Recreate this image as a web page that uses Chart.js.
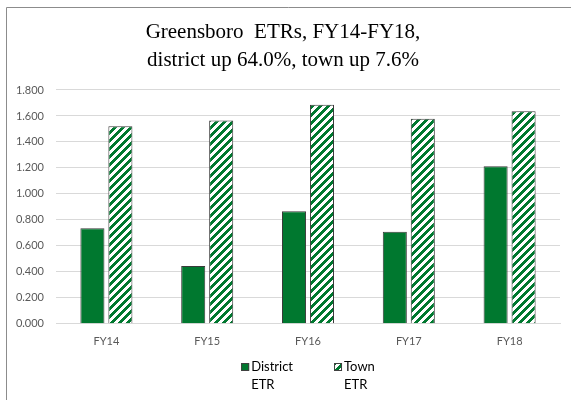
<!DOCTYPE html>
<html>
<head>
<meta charset="utf-8">
<script src="https://cdn.jsdelivr.net/npm/chart.js@4.4.1/dist/chart.umd.min.js"></script>
<style>
    html, body { margin: 0; padding: 0; background: #fff; }
    #wrap { position: relative; width: 571px; height: 400px; }
</style>
</head>
<body>
<div id="wrap"><canvas id="etrChart" width="571" height="400"></canvas></div>
<script>
// Données
const categories = ['FY14', 'FY15', 'FY16', 'FY17', 'FY18'];
const districtEtr = [0.736, 0.445, 0.867, 0.708, 1.212];
const townEtr = [1.520, 1.566, 1.686, 1.578, 1.636];
const seriesLabels = [['District', 'ETR'], ['Town', 'ETR']];
const titleLines = ['Greensboro  ETRs, FY14-FY18,', 'district up 64.0%, town up 7.6%'];
const yMin = 0;
const yMax = 1.8;
const yStep = 0.2;

const GREEN = '#00782F';

// Motif hachuré (diagonales vertes sur fond blanc)
function makeStripePattern() {
    const size = 8;
    const c = document.createElement('canvas');
    c.width = size;
    c.height = size;
    const cx = c.getContext('2d');
    cx.fillStyle = '#ffffff';
    cx.fillRect(0, 0, size, size);
    cx.fillStyle = GREEN;
    for (let y = 0; y < size; y++) {
        for (let x = 0; x < size; x++) {
            if ((x + y) % size < 4) cx.fillRect(x, y, 1, 1);
        }
    }
    return document.getElementById('etrChart').getContext('2d').createPattern(c, 'repeat');
}

const stripes = makeStripePattern();

// Cadre du graphique (bord gauche et haut)
const framePlugin = {
    id: 'frame',
    beforeDraw(chart) {
        const ctx = chart.ctx;
        ctx.save();
        ctx.strokeStyle = '#8c8c8c';
        ctx.lineWidth = 1;
        ctx.beginPath();
        ctx.moveTo(6.5, chart.height);
        ctx.lineTo(6.5, 7.5);
        ctx.lineTo(chart.width, 7.5);
        ctx.stroke();
        ctx.restore();
    }
};

// Légende sur deux lignes, en bas
const legendPlugin = {
    id: 'wrapLegend',
    afterDraw(chart) {
        const ctx = chart.ctx;
        const box = 8;
        const gap = 2;
        const itemGap = 41;
        ctx.save();
        ctx.font = '13px Lato, "Open Sans", sans-serif';
        ctx.textBaseline = 'middle';
        const widths = chart.data.datasets.map(ds => box + gap + Math.max(...ds.label.map(t => ctx.measureText(t).width)));
        const total = widths.reduce((a, b) => a + b, 0) + itemGap * (widths.length - 1);
        let x = (chart.chartArea.left + chart.chartArea.right) / 2 - total / 2;
        const y1 = 367;
        const y2 = 385;
        chart.data.datasets.forEach((ds, i) => {
            ctx.fillStyle = ds.backgroundColor;
            ctx.fillRect(x, y1 - box / 2, box, box);
            ctx.strokeStyle = '#404040';
            ctx.lineWidth = 1;
            ctx.strokeRect(x + 0.5, y1 - box / 2 + 0.5, box - 1, box - 1);
            ctx.fillStyle = '#000';
            ctx.fillText(ds.label[0], x + box + gap, y1);
            ctx.fillText(ds.label[1], x + box + gap, y2);
            x += widths[i] + itemGap;
        });
        ctx.restore();
    }
};

new Chart(document.getElementById('etrChart'), {
    type: 'bar',
    data: {
        labels: categories,
        datasets: [{
            label: seriesLabels[0],
            data: districtEtr,
            backgroundColor: GREEN,
            borderColor: '#3a3a3a',
            borderWidth: 1
        }, {
            label: seriesLabels[1],
            data: townEtr,
            backgroundColor: stripes,
            borderColor: '#3a3a3a',
            borderWidth: 1
        }]
    },
    options: {
        responsive: false,
        devicePixelRatio: 1,
        animation: false,
        categoryPercentage: 0.555,
        barPercentage: 0.86,
        layout: { padding: { left: 6, right: 11, top: 8, bottom: 49 } },
        plugins: {
            legend: { display: false },
            tooltip: { enabled: false },
            title: {
                display: true,
                text: titleLines,
                color: '#000',
                font: { family: '"Liberation Serif", serif', size: 21, weight: 'normal', lineHeight: 1.333 },
                padding: { top: 10, bottom: 16 }
            }
        },
        scales: {
            x: {
                grid: { display: false },
                border: { color: '#d9d9d9' },
                ticks: { color: '#595959', font: { family: 'Lato, sans-serif', size: 11 }, padding: 3 }
            },
            y: {
                min: yMin,
                max: yMax,
                afterFit(scale) { scale.width = 50; },
                grid: { color: '#d9d9d9', drawTicks: false },
                border: { display: false },
                ticks: {
                    stepSize: yStep,
                    color: '#595959',
                    padding: 12,
                    font: { family: 'Lato, sans-serif', size: 11 },
                    callback: v => v.toFixed(3)
                }
            }
        }
    },
    plugins: [framePlugin, legendPlugin]
});
</script>
</body>
</html>
